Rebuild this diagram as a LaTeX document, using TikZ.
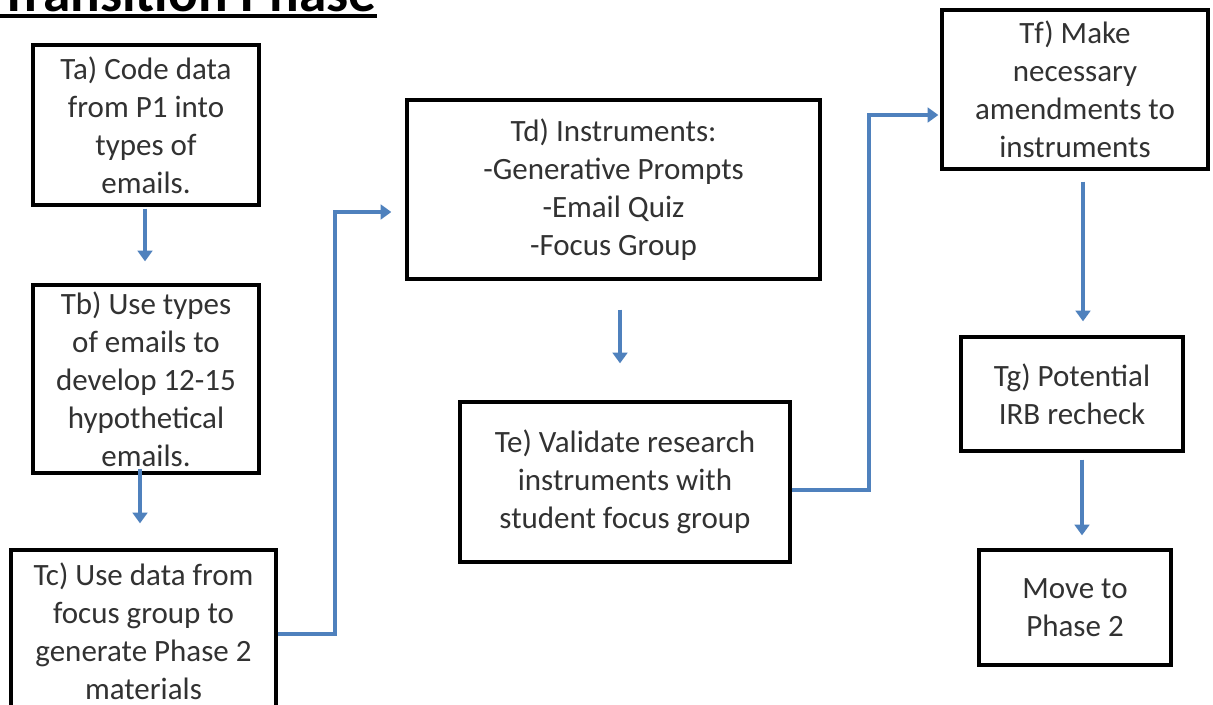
\documentclass[tikz,border=0pt]{standalone}
\usepackage{fontspec}
\setmainfont{Carlito}
\usetikzlibrary{arrows.meta,calc}
\definecolor{arrowblue}{RGB}{79,129,189}
\definecolor{txtgray}{RGB}{50,50,50}
\begin{document}
\begin{tikzpicture}[x=0.75pt,y=-0.75pt,
  box/.style={draw=black, line width=2.5pt, inner sep=0pt, align=center, text=txtgray,
    font=\fontsize{23.25}{28.5}\selectfont},
  arr/.style={draw=arrowblue, line width=2.8pt, -{Triangle[length=8pt,width=11pt]}}]
\useasboundingbox (0,0) rectangle (1213,704);
\clip (0,0) rectangle (1213,704);
\fill[white] (0,0) rectangle (1213,704);

\node[anchor=base west, inner sep=0pt, font=\fontsize{41.5}{41.5}\selectfont\bfseries] (title) at (0,11) {Transition Phase};
\draw[line width=2.4pt] ([shift={(0,5)}]title.base west) -- ([shift={(0,5)}]title.base east);

\node[box, minimum width=169.5pt, minimum height=120pt] (ta) at (146,125)
  {Ta) Code data\\from P1 into\\types of\\emails.};
\node[box, minimum width=169.5pt, minimum height=141pt] (tb) at (146,379)
  {Tb) Use types\\of emails to\\develop 12-15\\hypothetical\\emails.};
\node[box, minimum width=198.75pt, minimum height=121.5pt] (tc) at (143.5,631)
  {Tc) Use data from\\focus group to\\generate Phase 2\\materials};
\node[box, minimum width=309.75pt, minimum height=134.25pt] (td) at (613.5,189.5)
  {Td) Instruments:\\-Generative Prompts\\-Email Quiz\\-Focus Group};
\node[box, minimum width=247.5pt, minimum height=120pt] (te) at (625,482)
  {Te) Validate research\\instruments with\\student focus group};
\node[box, minimum width=199.5pt, minimum height=119.25pt] (tf) at (1075,89.5)
  {Tf) Make\\necessary\\amendments to\\instruments};
\node[box, minimum width=166.5pt, minimum height=85.5pt] (tg) at (1072,394)
  {Tg) Potential\\IRB recheck};
\node[box, minimum width=144pt, minimum height=86.25pt] (mv) at (1075,607.5)
  {Move to\\Phase 2};

\draw[arr] ([shift={(-1,2)}]ta.south) -- ([shift={(-1,-22)}]tb.north);
\draw[arr] ([shift={(-6,-6)}]tb.south) -- ([shift={(-3.5,-25)}]tc.north);
\draw[arr] ([shift={(0,3)}]tc.east) -- ++(57,0) |- ([shift={(-14,22.5)}]td.west);
\draw[arr] ([shift={(6.5,29)}]td.south) -- ([shift={(-5,-37)}]te.north);
\draw[arr] ([shift={(0,8)}]te.east) -- ++(77,0) |- ([shift={(-2,25.5)}]tf.west);
\draw[arr] ([shift={(8,11)}]tf.south) -- ([shift={(11,-14)}]tg.north);
\draw[arr] ([shift={(10,7)}]tg.south) -- ([shift={(7,-13)}]mv.north);
\end{tikzpicture}
\end{document}
